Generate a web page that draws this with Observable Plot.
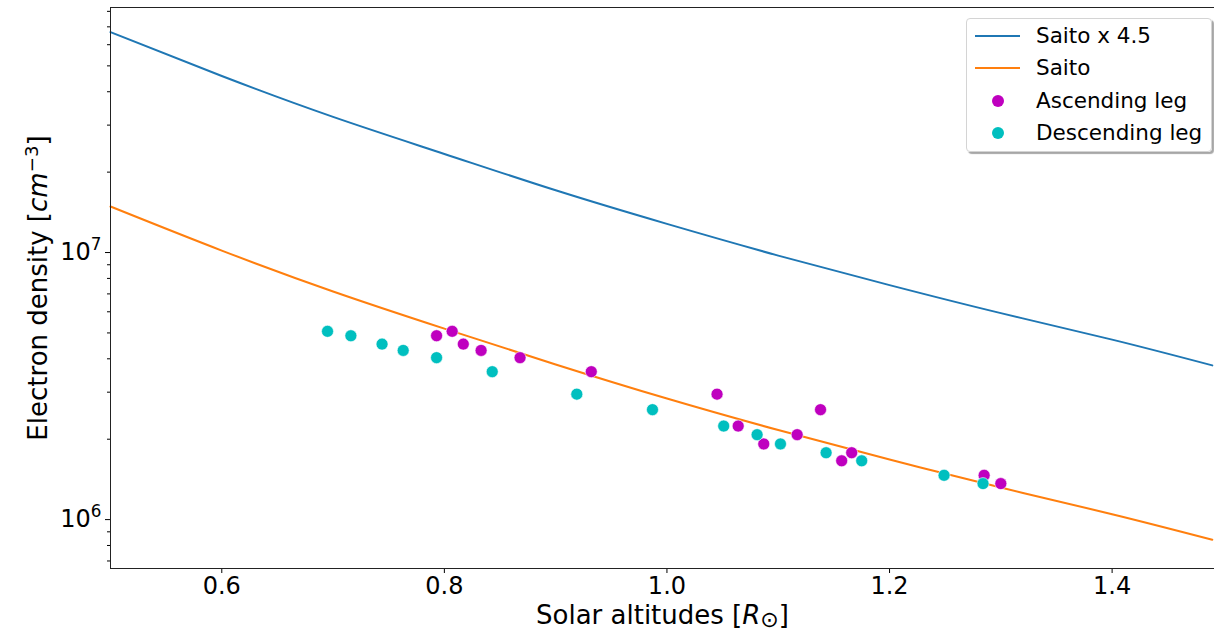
<!DOCTYPE html>
<html><head><meta charset="utf-8">
<script src="https://cdn.jsdelivr.net/npm/d3@7"></script>
<script src="https://cdn.jsdelivr.net/npm/@observablehq/plot@0.6"></script>
<style>
body{margin:0;background:#fff;font-family:"DejaVu Sans",sans-serif;}
#wrap{position:relative;width:1214px;height:631px;overflow:hidden;}
#legend{position:absolute;left:966px;top:18px;width:244px;height:132px;border:1px solid #d4d4d4;border-radius:4px;background:rgba(255,255,255,0.85);box-shadow:2px 2px 1px rgba(0,0,0,0.35);font-size:21.5px;color:#000;}
.row{position:absolute;left:0;height:26px;line-height:26px;width:100%;}
.row span{position:absolute;left:69px;white-space:nowrap;}
.sw-line{position:absolute;left:8px;width:45px;top:12px;height:2px;}
.sw-dot{position:absolute;left:25px;top:7px;width:12px;height:12px;border-radius:50%;}
</style></head><body><div id="wrap"></div>
<script>
// Model curves
const curveX = [0.5, 0.6, 0.7, 0.8, 0.9, 1.0, 1.1, 1.2, 1.3, 1.4, 1.49];
const saitoX45 = [6.69e7, 4.58e7, 3.22e7, 2.34e7, 1.71e7, 1.28e7, 9.74e6, 7.55e6, 5.93e6, 4.72e6, 3.78e6];
const saito = [1.487e7, 1.017e7, 7.15e6, 5.19e6, 3.81e6, 2.84e6, 2.164e6, 1.678e6, 1.318e6, 1.048e6, 8.41e5];

// Measurements
const ascX = [0.793, 0.807, 0.817, 0.833, 0.868, 0.932, 1.045, 1.064, 1.087, 1.117, 1.138, 1.157, 1.166, 1.285, 1.300];
const ascY = [4.88e6, 5.07e6, 4.54e6, 4.30e6, 4.04e6, 3.58e6, 2.95e6, 2.24e6, 1.92e6, 2.08e6, 2.58e6, 1.66e6, 1.78e6, 1.465e6, 1.364e6];
const descX = [0.695, 0.716, 0.744, 0.763, 0.793, 0.843, 0.919, 0.987, 1.051, 1.081, 1.102, 1.143, 1.175, 1.249, 1.284];
const descY = [5.07e6, 4.88e6, 4.54e6, 4.30e6, 4.04e6, 3.58e6, 2.95e6, 2.58e6, 2.24e6, 2.08e6, 1.92e6, 1.78e6, 1.66e6, 1.465e6, 1.364e6];

const seriesNames = ["Saito x 4.5", "Saito", "Ascending leg", "Descending leg"];
const seriesColors = ["#1f77b4", "#ff7f0e", "#bf00bf", "#00bfbf"];

const xTicks = [0.6, 0.8, 1.0, 1.2, 1.4];
const yMajorTicks = [1e6, 1e7];
const yMinorTicks = [7e5, 8e5, 9e5, 2e6, 3e6, 4e6, 5e6, 6e6, 7e6, 8e6, 9e6, 2e7, 3e7, 4e7, 5e7, 6e7, 7e7, 8e7];
const xDomain = [0.5, 1.492];
const yDomain = [6.56e5, 8.27e7];
const xLabel = "Solar altitudes [R⊙]";
const yLabel = "Electron density [cm⁻³]";

const blueData = curveX.map((x, i) => ({x, y: saitoX45[i]}));
const orangeData = curveX.map((x, i) => ({x, y: saito[i]}));
const ascData = ascX.map((x, i) => ({x, y: ascY[i]}));
const descData = descX.map((x, i) => ({x, y: descY[i]}));

const chart = Plot.plot({
  width: 1214,
  height: 631,
  marginTop: 7,
  marginBottom: 63,
  marginLeft: 110,
  marginRight: 0,
  style: {fontFamily: "DejaVu Sans, sans-serif", fontSize: "24px", color: "#000", background: "#fff"},
  x: {domain: xDomain},
  y: {type: "log", domain: yDomain},
  marks: [
    Plot.line(blueData, {x: "x", y: "y", stroke: seriesColors[0], strokeWidth: 2, curve: "natural"}),
    Plot.line(orangeData, {x: "x", y: "y", stroke: seriesColors[1], strokeWidth: 2, curve: "natural"}),
    Plot.dot(ascData, {x: "x", y: "y", r: 6, fill: seriesColors[2], stroke: "white", strokeWidth: 0.6}),
    Plot.dot(descData, {x: "x", y: "y", r: 6, fill: seriesColors[3], stroke: "white", strokeWidth: 0.6}),
    Plot.axisX({ticks: xTicks, tickSize: 5, tickPadding: 3, tickFormat: d => d.toFixed(1), label: null, fontSize: 24}),
    Plot.axisY({ticks: yMajorTicks, tickSize: 5, tickPadding: 4, tickFormat: d => "10^" + Math.round(Math.log10(d)), label: null, fontSize: 24}),
    Plot.axisY({ticks: yMinorTicks, tickSize: 3, tickFormat: () => "", label: null}),
    Plot.text([xLabel], {frameAnchor: "bottom", dy: 55, text: d => d, fontSize: 26, textAnchor: "middle", lineAnchor: "bottom"}),
    Plot.text([yLabel], {frameAnchor: "left", dx: -72, text: d => d, fontSize: 26, rotate: -90, textAnchor: "middle"}),
    Plot.frame({stroke: "#222", strokeWidth: 1})
  ]
});
document.getElementById("wrap").appendChild(chart);

// rich formatting for labels (italic symbols, sub/superscripts)
d3.select(chart).selectAll("text").each(function() {
  const t = d3.select(this);
  const s = t.text();
  if (s === xLabel) {
    t.text("");
    t.append("tspan").text("Solar altitudes [");
    t.append("tspan").attr("font-style", "italic").text("R");
    t.append("tspan").attr("font-size", "0.85em").attr("dy", "0.18em").text("⊙");
    t.append("tspan").attr("dy", "-0.15em").text("]");
  } else if (s === yLabel) {
    t.text("");
    t.append("tspan").text("Electron density [");
    t.append("tspan").attr("font-style", "italic").text("cm");
    t.append("tspan").attr("font-size", "0.7em").attr("dy", "-0.5em").text("−3");
    t.append("tspan").attr("dy", "0.35em").text("]");
  } else if (/^10\^\d+$/.test(s)) {
    const e = s.split("^")[1];
    t.text("");
    t.append("tspan").text("10");
    t.append("tspan").attr("font-size", "0.7em").attr("dy", "-0.6em").text(e);
  }
});

// legend
const legend = document.createElement("div");
legend.id = "legend";
const rowTops = [4, 36, 68.5, 100.5];
seriesNames.forEach((name, i) => {
  const row = document.createElement("div");
  row.className = "row";
  row.style.top = rowTops[i] + "px";
  const sw = document.createElement("div");
  sw.className = i < 2 ? "sw-line" : "sw-dot";
  sw.style.background = seriesColors[i];
  row.appendChild(sw);
  const sp = document.createElement("span");
  sp.textContent = name;
  row.appendChild(sp);
  legend.appendChild(row);
});
document.getElementById("wrap").appendChild(legend);
</script>
</body></html>
